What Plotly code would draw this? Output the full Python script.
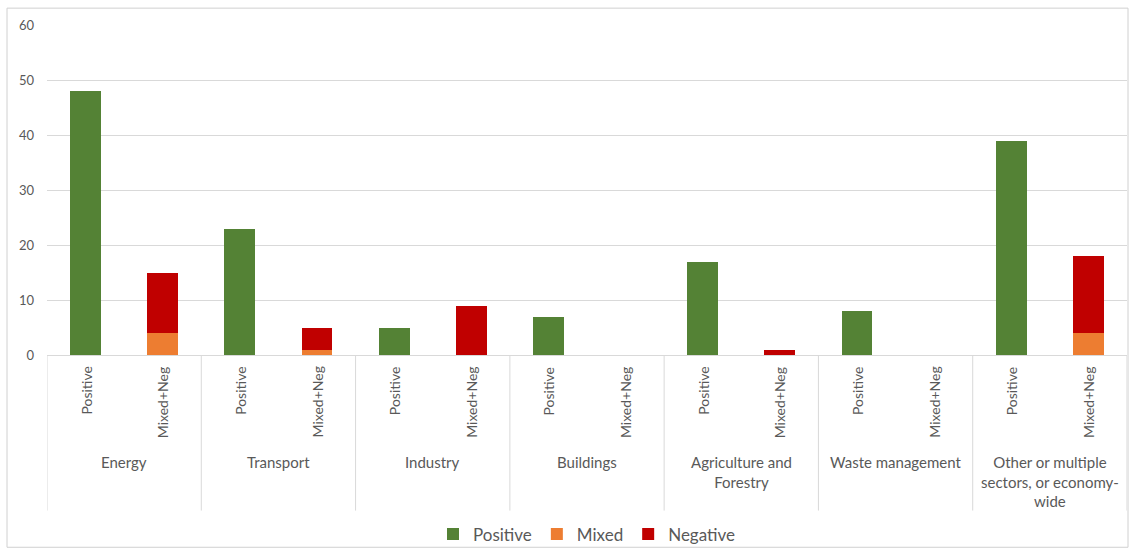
import plotly.graph_objects as go

# Sector groups and the two bars within each group
sectors = ["Energy", "Transport", "Industry", "Buildings",
           "Agriculture and<br>Forestry", "Waste management",
           "Other or multiple<br>sectors, or economy-<br>wide"]
bar_types = ["Positive", "Mixed+Neg"]

# Counts per sector
positive = [48, 23, 5, 7, 17, 8, 39]
mixed = [4, 1, 0, 0, 0, 0, 4]
negative = [11, 4, 9, 0, 1, 0, 14]

y_ticks = [0, 10, 20, 30, 40, 50, 60]

GREEN = "#548235"
ORANGE = "#ED7D31"
RED = "#C00000"
GRID = "#D9D9D9"
TEXT = "#595959"
FONT = "Lato"

W, H = 1131, 556
ML, MR, MT, MB = 47, 4, 25, 198
PW, PH = W - ML - MR, H - MT - MB

n = len(sectors)
pos_x = [2 * i for i in range(n)]
mix_x = [2 * i + 1 for i in range(n)]

fig = go.Figure()
fig.add_trace(go.Bar(x=pos_x, y=positive, name="Positive",
                     marker=dict(color=GREEN, line_width=0), width=0.4))
fig.add_trace(go.Bar(x=mix_x, y=mixed, name="Mixed",
                     marker=dict(color=ORANGE, line_width=0), width=0.4))
fig.add_trace(go.Bar(x=mix_x, y=negative, name="Negative",
                     marker=dict(color=RED, line_width=0), width=0.4))


def px_to_paper_y(py):
    return -(py - (MT + PH)) / PH


annotations = []
shapes = []

# Inner category labels, rotated
for i in range(n):
    for j, lab in enumerate(bar_types):
        annotations.append(dict(
            x=2 * i + j, y=0, xref="x", yref="paper",
            text=lab, textangle=-90, showarrow=False,
            xanchor="center", yanchor="top", yshift=-10,
            font=dict(family=FONT, size=14, color=TEXT)))
    annotations.append(dict(
        x=2 * i + 0.5, y=0, xref="x", yref="paper",
        text=sectors[i], showarrow=False,
        xanchor="center", yanchor="top", yshift=-96,
        font=dict(family=FONT, size=15, color=TEXT)))

# Group dividers below the axis
for k in range(n + 1):
    xd = 2 * k - 0.5
    shapes.append(dict(type="line", xref="x", yref="paper",
                       x0=xd, x1=xd, y0=0, y1=px_to_paper_y(515),
                       line=dict(color=GRID, width=1)))

# Chart frame
shapes.append(dict(type="rect", xref="paper", yref="paper",
                   x0=(7 - ML) / PW, x1=(1128 - ML) / PW,
                   y0=px_to_paper_y(552), y1=px_to_paper_y(8),
                   line=dict(color="#D0D0D0", width=1), layer="below"))

fig.update_layout(
    width=W, height=H,
    margin=dict(l=ML, r=MR, t=MT, b=MB),
    barmode="stack",
    paper_bgcolor="white", plot_bgcolor="white",
    font=dict(family=FONT, color=TEXT),
    showlegend=True,
    legend=dict(orientation="h", x=0.5, xanchor="center",
                y=px_to_paper_y(539), yanchor="middle",
                bgcolor="rgba(0,0,0,0)",
                font=dict(family=FONT, size=17, color=TEXT),
                itemwidth=30, traceorder="normal"),
    xaxis=dict(range=[-0.5, 2 * n - 0.5], showticklabels=False,
               showgrid=False, zeroline=False, showline=True,
               linecolor=GRID, linewidth=1, ticks=""),
    yaxis=dict(range=[0, 60], tickvals=y_ticks, showgrid=True,
               gridcolor=GRID, gridwidth=1, zeroline=False,
               showline=False, ticks="", ticklabelstandoff=12,
               tickfont=dict(family=FONT, size=13, color=TEXT)),
    annotations=annotations,
    shapes=shapes,
)

fig.write_html("out.html")
